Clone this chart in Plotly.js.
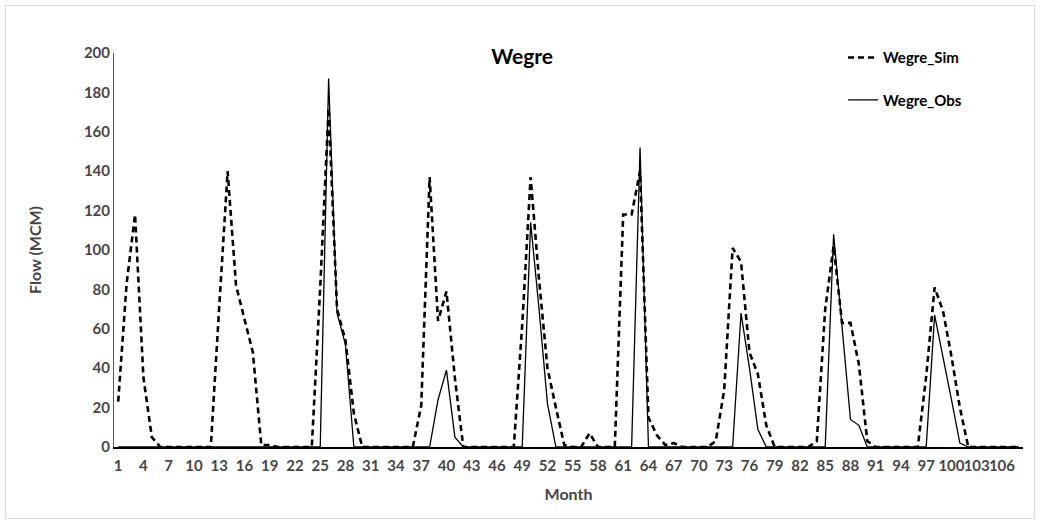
<!DOCTYPE html>
<html>
<head>
<meta charset="utf-8">
<script src="https://cdn.plot.ly/plotly-3.0.1.min.js"></script>
<style>html,body{margin:0;padding:0;background:#fff;}#chart{width:1040px;height:524px;}</style>
</head>
<body>
<div id="chart"></div>
<script>
// Month index 1..108
const months = [];
for (let m = 1; m <= 108; m++) months.push(m);

const tickMonths = [1,4,7,10,13,16,19,22,25,28,31,34,37,40,43,46,49,52,55,58,61,64,67,70,73,76,79,82,85,88,91,94,97,100,103,106];
const flowTicks = [0,20,40,60,80,100,120,140,160,180,200];

const simFlow = [
  23, 83, 118, 35, 5, 0, 0, 0, 0, 0, 0, 0,
  71, 140, 82, 65, 48, 1, 1, 0, 0, 0, 0, 0,
  81, 172, 70, 54, 17, 0, 0, 0, 0, 0, 0, 0,
  21, 137, 64, 79, 35, 0, 0, 0, 0, 0, 0, 0,
  62, 137, 85, 40, 20, 1, 0, 0, 7, 0, 0, 0,
  118, 118, 140, 15, 6, 1, 2, 0, 0, 0, 0, 3,
  29, 101, 94, 48, 37, 11, 0, 0, 0, 0, 0, 3,
  70, 102, 63, 63, 42, 3, 0, 0, 0, 0, 0, 0,
  36, 81, 69, 46, 20, 0, 0, 0, 0, 0, 0, 0
];

const obsFlow = [
  0, 0, 0, 0, 0, 0, 0, 0, 0, 0, 0, 0,
  0, 0, 0, 0, 0, 0, 0, 0, 0, 0, 0, 0,
  0, 187, 68, 52, 0, 0, 0, 0, 0, 0, 0, 0,
  0, 0, 24, 39, 5, 0, 0, 0, 0, 0, 0, 0,
  0, 114, 70, 22, 0, 0, 0, 0, 0, 0, 0, 0,
  0, 0, 152, 0, 0, 0, 0, 0, 0, 0, 0, 0,
  0, 0, 68, 40, 9, 0, 0, 0, 0, 0, 0, 0,
  0, 108, 61, 14, 11, 0, 0, 0, 0, 0, 0, 0,
  0, 67, 46, 24, 2, 0, 0, 0, 0, 0, 0, 0
];

const FONT = 'Lato, "Open Sans", sans-serif';
const AXC = '#474747';

const traces = [
  {
    x: months, y: simFlow, type: 'scatter', mode: 'lines', name: '<b>Wegre_Sim</b>',
    legendgroup: 'sim',
    line: {color: '#000000', width: 2.6, dash: '6px,4px'}
  },
  {
    x: months, y: obsFlow, type: 'scatter', mode: 'lines', name: '<b>Wegre_Obs</b>',
    legendgroup: 'obs',
    line: {color: '#000000', width: 1.3}
  }
];

const layout = {
  width: 1040, height: 524,
  margin: {l: 114, r: 17, t: 53, b: 77},
  paper_bgcolor: '#ffffff', plot_bgcolor: '#ffffff',
  font: {family: FONT, color: AXC},
  title: {
    text: '<b>Wegre</b>',
    font: {family: FONT, size: 21, color: '#000000'},
    xref: 'container', x: 0.502, xanchor: 'center',
    yref: 'container', y: 1 - 57/524, yanchor: 'middle'
  },
  xaxis: {
    range: [0.5, 108.5],
    tickmode: 'array', tickvals: tickMonths, ticktext: tickMonths.map(v => '<b>' + v + '</b>'),
    tickangle: 0,
    showgrid: false, zeroline: false,
    showline: true, linecolor: '#000000', linewidth: 1.5,
    ticks: '', ticklen: 0, ticklabelstandoff: 4,
    tickfont: {family: FONT, size: 15, color: AXC},
    title: {text: '<b>Month</b>', font: {family: FONT, size: 16, color: AXC}, standoff: 16}
  },
  yaxis: {
    range: [0, 200],
    tickmode: 'array', tickvals: flowTicks, ticktext: flowTicks.map(v => '<b>' + v + '</b>'),
    showgrid: false, zeroline: false,
    showline: true, linecolor: '#595959', linewidth: 1,
    ticks: '',
    tickfont: {family: FONT, size: 15, color: AXC},
    title: {text: '<b>Flow (MCM)</b>', font: {family: FONT, size: 16, color: AXC}, standoff: 38}
  },
  showlegend: true,
  legend: {
    x: 0.802, xanchor: 'left', y: 1.03, yanchor: 'top',
    bgcolor: 'rgba(0,0,0,0)',
    tracegroupgap: 20,
    font: {family: FONT, size: 15, color: '#000000'}
  },
  shapes: [
    {type: 'rect', xref: 'paper', yref: 'paper',
     x0: (5.5-114)/909, x1: (1034.5-114)/909, y0: (447-518.5)/394, y1: (447-5.5)/394,
     line: {color: '#d9d9d9', width: 1}, fillcolor: 'rgba(0,0,0,0)', layer: 'below'}
  ]
};

Plotly.newPlot('chart', traces, layout, {displayModeBar: false, staticPlot: true});
</script>
</body>
</html>
